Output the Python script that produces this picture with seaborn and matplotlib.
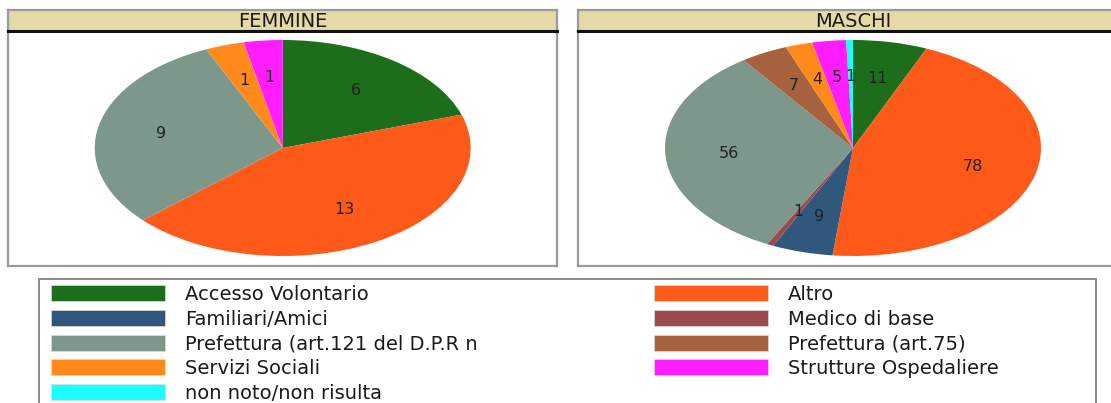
import matplotlib
matplotlib.use("Agg")
import matplotlib.pyplot as plt
from matplotlib.patches import Patch, Rectangle
import seaborn as sns

# ---------- DATA ----------
CATEGORIES = [
    "Accesso Volontario",
    "Altro",
    "Familiari/Amici",
    "Medico di base",
    "Prefettura (art.121 del D.P.R n",
    "Prefettura (art.75)",
    "Servizi Sociali",
    "Strutture Ospedaliere",
    "non noto/non risulta",
]
FEMMINE = [6, 13, 0, 0, 9, 0, 1, 1, 0]
MASCHI = [11, 78, 9, 1, 56, 7, 4, 5, 1]
PANEL_TITLES = ["FEMMINE", "MASCHI"]

COLORS = sns.color_palette([
    "#1c6e1c", "#ff5a19", "#2f587c", "#9b4a50", "#7e978b",
    "#a6623f", "#ff8a1c", "#ff1cff", "#1cffff",
])

# ---------- STYLE ----------
sns.set_theme(style="white")
plt.rcParams["font.family"] = ["DejaVu Sans"]

W, H = 1111, 403
fig = plt.figure(figsize=(W / 100, H / 100), dpi=100)
fig.patch.set_facecolor("white")


def px_axes(x0, y0, x1, y1):
    """Axes from pixel box (top-left origin)."""
    return fig.add_axes([x0 / W, 1 - y1 / H, (x1 - x0) / W, (y1 - y0) / H])


def draw_panel(values, title, x0, x1, cx):
    ax = px_axes(x0, 31, x1, 266)
    total = sum(values)

    def fmt(pct):
        v = round(pct * total / 100)
        return f"{v}" if v > 0 else ""

    ax.pie(values, colors=COLORS, startangle=90, counterclock=False,
           autopct=fmt, pctdistance=0.66,
           wedgeprops=dict(linewidth=0),
           textprops=dict(fontsize=11.5, color="#222222"))
    ax.set_aspect("auto")
    rx, ry = 188.0, 108.0
    ax.set_xlim((x0 - cx) / rx, (x1 - cx) / rx)
    ax.set_ylim(-(266 - 148) / ry, (148 - 31) / ry)
    ax.set_frame_on(True)
    for sp in ax.spines.values():
        sp.set_visible(True)
        sp.set_color("#9a9a9a")
        sp.set_linewidth(1.6)

    hdr = px_axes(x0, 10, x1, 31)
    hdr.set_facecolor("#e5d9a6")
    hdr.set_xticks([])
    hdr.set_yticks([])
    for sp in hdr.spines.values():
        sp.set_color("#9a9a9a")
        sp.set_linewidth(1.6)
    hdr.spines["bottom"].set_color("#111111")
    hdr.spines["bottom"].set_linewidth(2.2)
    hdr.text((cx - x0) / (x1 - x0), 0.45, title, transform=hdr.transAxes,
             ha="center", va="center", fontsize=14, color="#1a1a1a")


draw_panel(FEMMINE, PANEL_TITLES[0], 8, 557, 282.7)
draw_panel(MASCHI, PANEL_TITLES[1], 578, 1128, 853)

# ---------- LEGEND ----------
fig.patches.append(Rectangle((39 / W, 1 - 420 / H), (1096 - 39) / W, (420 - 279) / H,
                             transform=fig.transFigure, fill=False,
                             edgecolor="#8a8a8a", linewidth=1.4))

handles = [Patch(facecolor=c, edgecolor="#dddddd", linewidth=0.5) for c in COLORS]
order = [0, 2, 4, 6, 8, 1, 3, 5, 7]
fs = 14
leg = fig.legend([handles[i] for i in order], [CATEGORIES[i] for i in order],
                 loc="upper left", bbox_to_anchor=(51 / W, 1 - 285 / H),
                 ncol=2, frameon=False, fontsize=fs,
                 handlelength=5.88, handleheight=0.9, handletextpad=1.03,
                 labelspacing=0.29, columnspacing=9.05, borderpad=0,
                 borderaxespad=0)
for t in leg.get_texts():
    t.set_color("#1a1a1a")

fig.savefig("out.png", dpi=100)
